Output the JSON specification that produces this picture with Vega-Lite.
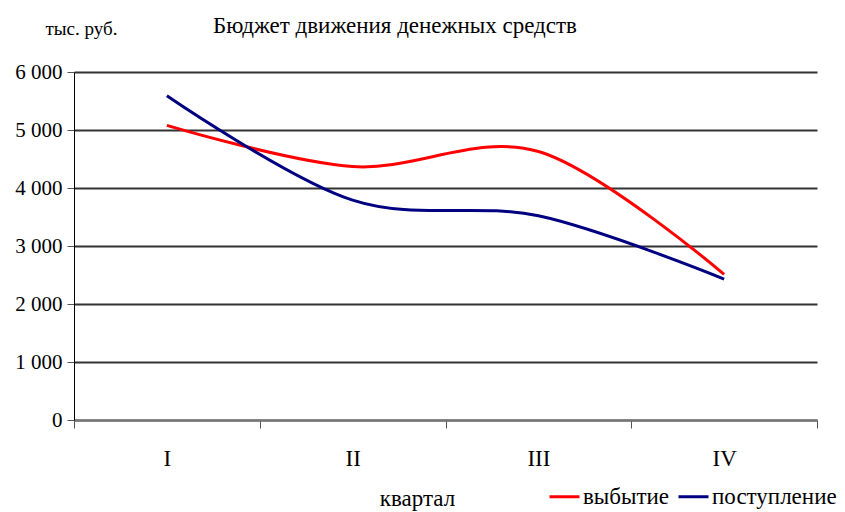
{
  "$schema": "https://vega.github.io/schema/vega-lite/v6.json",
  "autosize": {"type": "none"},
  "padding": {"left": 74, "top": 72, "right": 28, "bottom": 92},
  "width": 743,
  "height": 348,
  "background": "white",
  "title": {
    "text": "Бюджет движения денежных средств",
    "anchor": "start",
    "frame": "group",
    "dx": 139,
    "offset": 0,
    "dy": 19,
    "font": "Liberation Serif",
    "fontSize": 23,
    "fontWeight": "normal",
    "color": "black"
  },
  "data": {
    "values": [
      {"quarter": "I", "series": "выбытие", "value": 5080},
      {"quarter": "II", "series": "выбытие", "value": 4370},
      {"quarter": "III", "series": "выбытие", "value": 4630},
      {"quarter": "IV", "series": "выбытие", "value": 2510},
      {"quarter": "I", "series": "поступление", "value": 5590},
      {"quarter": "II", "series": "поступление", "value": 3790},
      {"quarter": "III", "series": "поступление", "value": 3520},
      {"quarter": "IV", "series": "поступление", "value": 2430}
    ]
  },
  "mark": {"type": "line", "interpolate": "cardinal", "strokeWidth": 3},
  "encoding": {
    "x": {
      "field": "quarter",
      "type": "ordinal",
      "sort": ["I", "II", "III", "IV"],
      "scale": {"type": "band", "paddingInner": 0, "paddingOuter": 0},
      "axis": {
        "title": "квартал",
        "titleX": 343,
        "titleY": 78,
        "titleAlign": "center",
        "titleBaseline": "middle",
        "titleFont": "Liberation Serif",
        "titleFontSize": 23,
        "titleFontWeight": "normal",
        "labelFont": "Liberation Serif",
        "labelFontSize": 23,
        "labelColor": "black",
        "labelAngle": 0,
        "labelPadding": 19,
        "tickBand": "extent",
        "tickSize": 8,
        "tickColor": "#555",
        "domainColor": "#777",
        "domainWidth": 2,
        "grid": false
      }
    },
    "y": {
      "field": "value",
      "type": "quantitative",
      "scale": {"domain": [0, 6000], "nice": false},
      "axis": {
        "values": [0, 1000, 2000, 3000, 4000, 5000, 6000],
        "labelExpr": "replace(format(datum.value, ','), ',', ' ')",
        "title": "тыс. руб.",
        "titleAngle": 0,
        "titleX": 7,
        "titleY": -44,
        "titleAlign": "center",
        "titleBaseline": "middle",
        "titleFont": "Liberation Serif",
        "titleFontSize": 19,
        "titleFontWeight": "normal",
        "labelFont": "Liberation Serif",
        "labelFontSize": 21,
        "labelColor": "black",
        "labelPadding": 5,
        "tickSize": 7,
        "tickColor": "#555",
        "domainColor": "black",
        "domainWidth": 1,
        "grid": true,
        "gridColor": "#333",
        "gridWidth": 2
      }
    },
    "color": {
      "field": "series",
      "type": "nominal",
      "scale": {"domain": ["выбытие", "поступление"], "range": ["#ff0000", "#000080"]},
      "legend": {
        "title": null,
        "orient": "none",
        "legendX": 474,
        "legendY": 408,
        "direction": "horizontal",
        "symbolType": "stroke",
        "symbolSize": 900,
        "symbolStrokeWidth": 3,
        "labelFont": "Liberation Serif",
        "labelFontSize": 23,
        "labelColor": "black",
        "labelOffset": 2,
        "columnPadding": 2
      }
    }
  },
  "config": {"view": {"stroke": null}}
}
